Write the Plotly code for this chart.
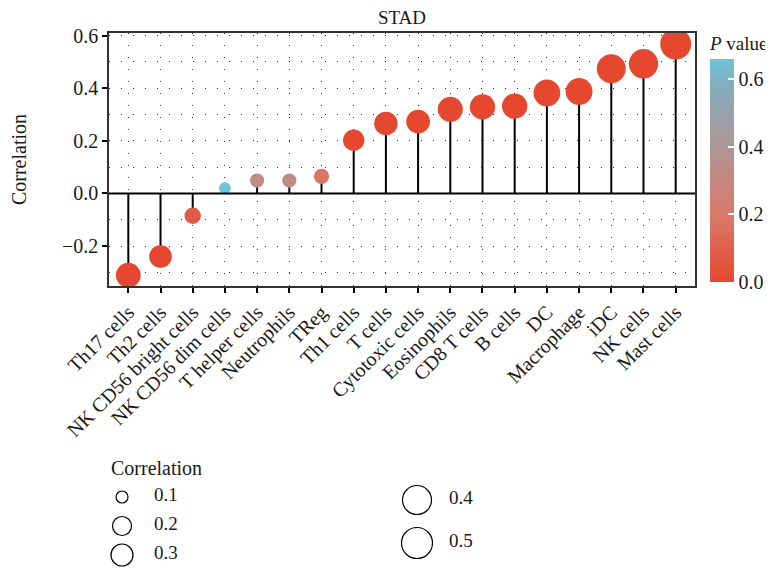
import numpy as np
import plotly.graph_objects as go

cells = ["Th17 cells", "Th2 cells", "NK CD56 bright cells", "NK CD56 dim cells",
         "T helper cells", "Neutrophils", "TReg", "Th1 cells", "T cells",
         "Cytotoxic cells", "Eosinophils", "CD8 T cells", "B cells", "DC",
         "Macrophage", "iDC", "NK cells", "Mast cells"]
corr = [-0.311, -0.240, -0.085, 0.020, 0.049, 0.049, 0.065, 0.202, 0.266,
        0.273, 0.320, 0.329, 0.332, 0.382, 0.388, 0.474, 0.493, 0.568]
pval = [0.000, 0.000, 0.08, 0.66, 0.33, 0.33, 0.18, 0.000, 0.000,
        0.000, 0.000, 0.000, 0.000, 0.000, 0.000, 0.000, 0.000, 0.000]
legend_vals = [0.1, 0.2, 0.3, 0.4, 0.5]
cbar_ticks = [0.0, 0.2, 0.4, 0.6]

FONT = "Liberation Serif"
TXT = "#1a1a1a"
WIN_W, WIN_H = 773, 586
OFF = 8  # page body margin
FW, FH = WIN_W - OFF, WIN_H - OFF
# plot area in window pixels
L, R, T, B = 109, 695, 33, 286
PW, PH = R - L, B - T


def px2x(px):
    return (px - L) / PW


def px2y(py):
    return (B - py) / PH


def dia(v):
    return 7.3 + 31.4 * np.sqrt(abs(v))


colorscale = [[0.0, "#E5482F"], [0.3, "#D97A6A"], [0.6, "#B09494"],
              [0.9, "#80AFC2"], [1.0, "#6CC5DC"]]

xs = list(range(len(cells)))

# stems
sx, sy = [], []
for i, v in zip(xs, corr):
    sx += [i, i, None]
    sy += [0, v, None]

fig = go.Figure()
fig.add_trace(go.Scatter(x=sx, y=sy, mode="lines",
                         line=dict(color="black", width=2),
                         hoverinfo="skip", showlegend=False))
fig.add_trace(go.Scatter(
    x=xs, y=corr, mode="markers", showlegend=False,
    marker=dict(size=[dia(v) for v in corr], color=pval,
                colorscale=colorscale, cmin=0, cmax=0.66, opacity=1,
                line=dict(width=0),
                colorbar=dict(
                    title=dict(text="<i>P</i> value", side="top",
                               font=dict(family=FONT, size=19, color=TXT)),
                    x=px2x(710), xanchor="left", xref="paper",
                    y=px2y(282), yanchor="bottom", yref="paper",
                    len=(282 - 33) / PH, lenmode="fraction",
                    xpad=0, ypad=0,
                    thickness=24, thicknessmode="pixels",
                    outlinewidth=0, ticks="inside", ticklen=6,
                    tickcolor="white", tickwidth=1.5,
                    tickvals=cbar_ticks,
                    ticktext=["%.1f" % t for t in cbar_ticks],
                    tickfont=dict(family=FONT, size=20, color=TXT),
                ))))

fig.add_shape(type="line", xref="paper", yref="y", x0=0, x1=1, y0=0, y1=0,
              line=dict(color="black", width=2))

dotgrid = dict(showgrid=True, gridcolor="#333", gridwidth=1, griddash="1px,11px")

fig.update_xaxes(range=[-0.6, len(cells) - 0.4], tickvals=xs, ticktext=cells,
                 tickangle=-45, ticks="outside", ticklen=5, tickwidth=1.5,
                 tickcolor="black", showline=True, linecolor="#333",
                 linewidth=1.5, mirror=True, zeroline=False,
                 tickfont=dict(family=FONT, size=20, color=TXT),
                 **dotgrid)
fig.update_yaxes(range=[-0.352, 0.61], tickvals=[-0.2, 0.0, 0.2, 0.4, 0.6],
                 ticktext=["\u22120.2", "0.0", "0.2", "0.4", "0.6"],
                 ticks="outside", ticklen=5, tickwidth=1.5, tickcolor="black",
                 showline=True, linecolor="#333", linewidth=1.5, mirror=True,
                 zeroline=False,
                 tickfont=dict(family=FONT, size=20, color=TXT),
                 title=dict(text="Correlation", standoff=30,
                            font=dict(family=FONT, size=20, color=TXT)),
                 minor=dict(dtick=0.1, tick0=0, showgrid=True, gridcolor="#333",
                            gridwidth=1, griddash="1px,11px"),
                 **dotgrid)

# size legend
fig.add_annotation(text="Correlation", xref="paper", yref="paper",
                   x=px2x(109), y=px2y(468), xanchor="left", yanchor="middle",
                   showarrow=False,
                   font=dict(family=FONT, size=20, color=TXT))
leg_pos = [(122, 497), (122, 526), (122, 555), (417, 500), (417, 543)]
leg_dia = [12, 19, 22, 29, 31]
for v, (cx, cy), d in zip(legend_vals, leg_pos, leg_dia):
    fig.add_shape(type="circle", xref="paper", yref="paper",
                  xsizemode="pixel", ysizemode="pixel",
                  xanchor=px2x(cx), yanchor=px2y(cy),
                  x0=-d / 2, x1=d / 2, y0=-d / 2, y1=d / 2,
                  line=dict(color="black", width=1.2))
    fig.add_annotation(text="%.1f" % v, xref="paper", yref="paper",
                       x=px2x(cx + 30), y=px2y(cy - 3), xanchor="left",
                       yanchor="middle", showarrow=False,
                       font=dict(family=FONT, size=19, color=TXT))

fig.update_layout(
    width=FW, height=FH,
    margin=dict(l=L - OFF, r=WIN_W - R, t=T - OFF, b=WIN_H - B,
                autoexpand=False),
    paper_bgcolor="white", plot_bgcolor="white",
    title=dict(text="STAD", x=((L + R) / 2 - OFF) / FW, xanchor="center",
               y=1 - (17 - OFF) / FH, yanchor="middle",
               font=dict(family=FONT, size=19, color=TXT)),
    showlegend=False,
)

fig.write_html("out.html")
